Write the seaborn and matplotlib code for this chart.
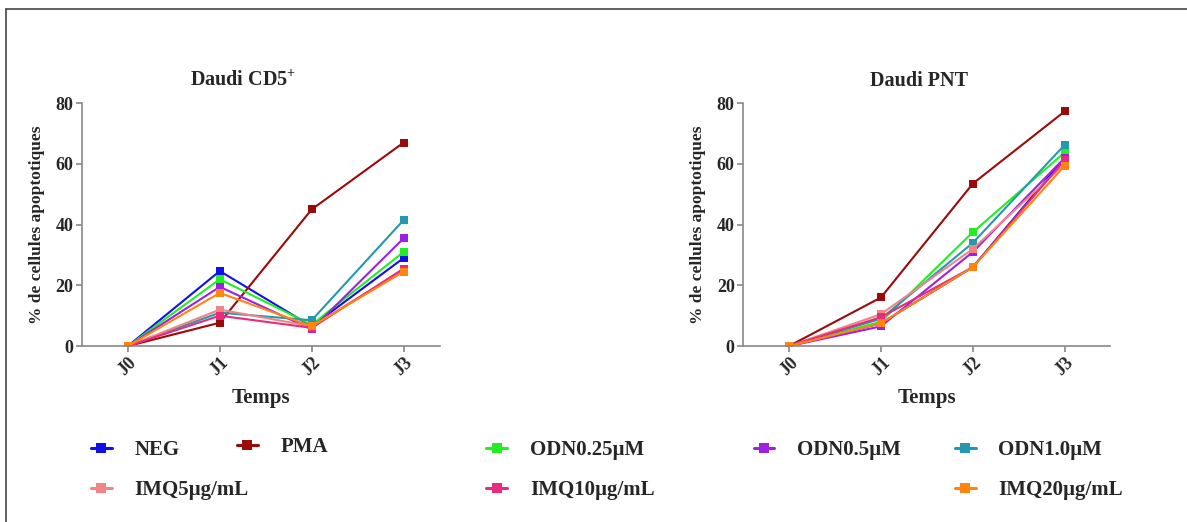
import numpy as np
import pandas as pd
import matplotlib.pyplot as plt
import seaborn as sns
from matplotlib.lines import Line2D

days = ["J0", "J1", "J2", "J3"]
groups = ["NEG", "PMA", "ODN0.25µM", "ODN0.5µM", "ODN1.0µM",
          "IMQ5µg/mL", "IMQ10µg/mL", "IMQ20µg/mL"]
colors = ["#1010e8", "#9a0a0a", "#22ee22", "#a020e0", "#2399ad",
          "#f08585", "#ea2a7c", "#ff8410"]

# % apoptotic cells, one list per group (J0..J3)
cd5 = {
    "NEG":        [0, 24.7, 6.5, 29.0],
    "PMA":        [0, 7.7, 45.0, 67.0],
    "ODN0.25µM":  [0, 22.0, 7.0, 31.0],
    "ODN0.5µM":   [0, 19.5, 5.5, 35.5],
    "ODN1.0µM":   [0, 11.0, 8.5, 41.5],
    "IMQ5µg/mL":  [0, 12.0, 6.5, 25.0],
    "IMQ10µg/mL": [0, 10.0, 6.0, 25.5],
    "IMQ20µg/mL": [0, 17.5, 6.5, 24.5],
}
pnt = {
    "NEG":        [0, 7.5, 26.0, 62.0],
    "PMA":        [0, 16.0, 53.5, 77.3],
    "ODN0.25µM":  [0, 8.0, 37.5, 63.8],
    "ODN0.5µM":   [0, 6.5, 31.0, 62.0],
    "ODN1.0µM":   [0, 9.0, 34.0, 66.3],
    "IMQ5µg/mL":  [0, 10.5, 32.0, 60.0],
    "IMQ10µg/mL": [0, 9.5, 26.0, 61.3],
    "IMQ20µg/mL": [0, 7.5, 26.0, 59.4],
}

def to_long(d):
    rows = []
    for g, vals in d.items():
        for i, v in enumerate(vals):
            rows.append({"jour": i, "groupe": g, "val": v})
    return pd.DataFrame(rows)

sns.set_style("white")
plt.rcParams["font.family"] = ["Liberation Serif", "DejaVu Serif"]
plt.rcParams["font.weight"] = "bold"

fig = plt.figure(figsize=(11.87, 5.22), dpi=100)
ax1 = fig.add_axes([0.069, 0.337, 0.302, 0.4655])
ax2 = fig.add_axes([0.626, 0.337, 0.309, 0.4655])

palette = dict(zip(groups, colors))

for ax, data, title, xmax, tx in [(ax1, cd5, "Daudi CD5$^{\\mathregular{+}}$", 3.4, 0.45),
                                  (ax2, pnt, "Daudi PNT", 3.49, 0.48)]:
    df = to_long(data)
    sns.lineplot(data=df, x="jour", y="val", hue="groupe", hue_order=groups,
                 palette=palette, marker="s", markersize=6, markeredgewidth=0,
                 linewidth=1.5, legend=False, ax=ax)
    ax.set_xlim(-0.5, xmax)
    ax.set_ylim(0, 80)
    ax.set_yticks([0, 20, 40, 60, 80])
    ax.set_xticks(range(4))
    ax.set_xticklabels(days, rotation=45, fontsize=13, fontweight="bold")
    for t in ax.get_yticklabels():
        t.set_fontsize(13)
        t.set_fontweight("bold")
    ax.set_xlabel("Temps", fontsize=15, fontweight="bold", labelpad=6)
    ax.set_ylabel("% de cellules apoptotiques", fontsize=12.5, fontweight="bold",
                  labelpad=8)
    ax.set_title(title, fontsize=14.5, fontweight="bold", pad=12, x=tx)
    sns.despine(ax=ax)
    for s in ["left", "bottom"]:
        ax.spines[s].set_color("#888888")
        ax.spines[s].set_linewidth(1.2)
    ax.tick_params(axis="both", direction="out", length=4, width=1.2,
                   color="#888888", left=True, bottom=True, pad=2)

# legend entries placed as in the original layout
legend_pos = {
    "NEG": (0.0607, 0.138), "PMA": (0.1837, 0.144),
    "ODN0.25µM": (0.394, 0.138), "ODN0.5µM": (0.619, 0.138),
    "ODN1.0µM": (0.7885, 0.138),
    "IMQ5µg/mL": (0.0607, 0.061), "IMQ10µg/mL": (0.394, 0.061),
    "IMQ20µg/mL": (0.7885, 0.061),
}
for g in groups:
    h = Line2D([], [], color=palette[g], marker="s", markersize=7,
               markeredgewidth=0, linewidth=2.2)
    fig.legend([h], [g], loc="center left", bbox_to_anchor=legend_pos[g],
               frameon=False, handlelength=1.0, handletextpad=1.1,
               prop={"family": ["Liberation Serif"], "weight": "bold", "size": 15})

# frame visible on top and left edges of the original image
fig.add_artist(Line2D([0.005, 1.0], [0.983, 0.983], transform=fig.transFigure,
                      color="#444444", linewidth=1.2))
fig.add_artist(Line2D([0.005, 0.005], [0.0, 0.983], transform=fig.transFigure,
                      color="#444444", linewidth=1.2))

fig.savefig("out.png", dpi=100)
